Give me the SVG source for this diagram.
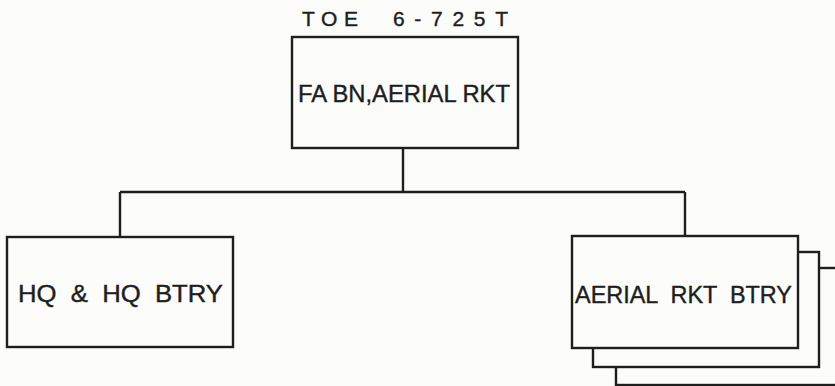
<svg xmlns="http://www.w3.org/2000/svg" width="835" height="386" viewBox="0 0 835 386">
<style>
.box{fill:#fcfcfa;stroke:#1e1e1e;stroke-width:2.4}
.ln{fill:none;stroke:#1e1e1e;stroke-width:2.4}
.t{font-family:"Liberation Sans",Arial,sans-serif;font-size:24px;fill:#1e1e1e;stroke:#1e1e1e;stroke-width:0.4;white-space:pre}
</style>
<rect width="835" height="386" fill="#fcfcfa"/>
<g id="connectors">
<path class="ln" d="M403 148 V192 M120 192 H685 M120 192 V237 M685 192 V236"/>
</g>
<g id="title">
<text class="t" y="26" style="font-size:21px"><tspan x="302" textLength="56" lengthAdjust="spacing">TOE</tspan> <tspan x="393" textLength="115" lengthAdjust="spacing">6-725T</tspan></text>
</g>
<g id="bn">
<rect class="box" x="292" y="37" width="226" height="111"/>
<text class="t" x="298" y="102" textLength="212" lengthAdjust="spacingAndGlyphs">FA BN,AERIAL RKT</text>
</g>
<g id="hq">
<rect class="box" x="7" y="237" width="226" height="110"/>
<text class="t" x="18" y="302" textLength="205" lengthAdjust="spacingAndGlyphs" xml:space="preserve">HQ  &amp;  HQ  BTRY</text>
</g>
<g id="btry">
<rect class="box" x="616" y="268" width="230" height="117"/>
<rect class="box" x="593" y="252" width="226" height="115"/>
<rect class="box" x="572" y="236" width="226" height="112"/>
<text class="t" x="575" y="303" textLength="217" lengthAdjust="spacingAndGlyphs" xml:space="preserve">AERIAL  RKT  BTRY</text>
</g>
</svg>
